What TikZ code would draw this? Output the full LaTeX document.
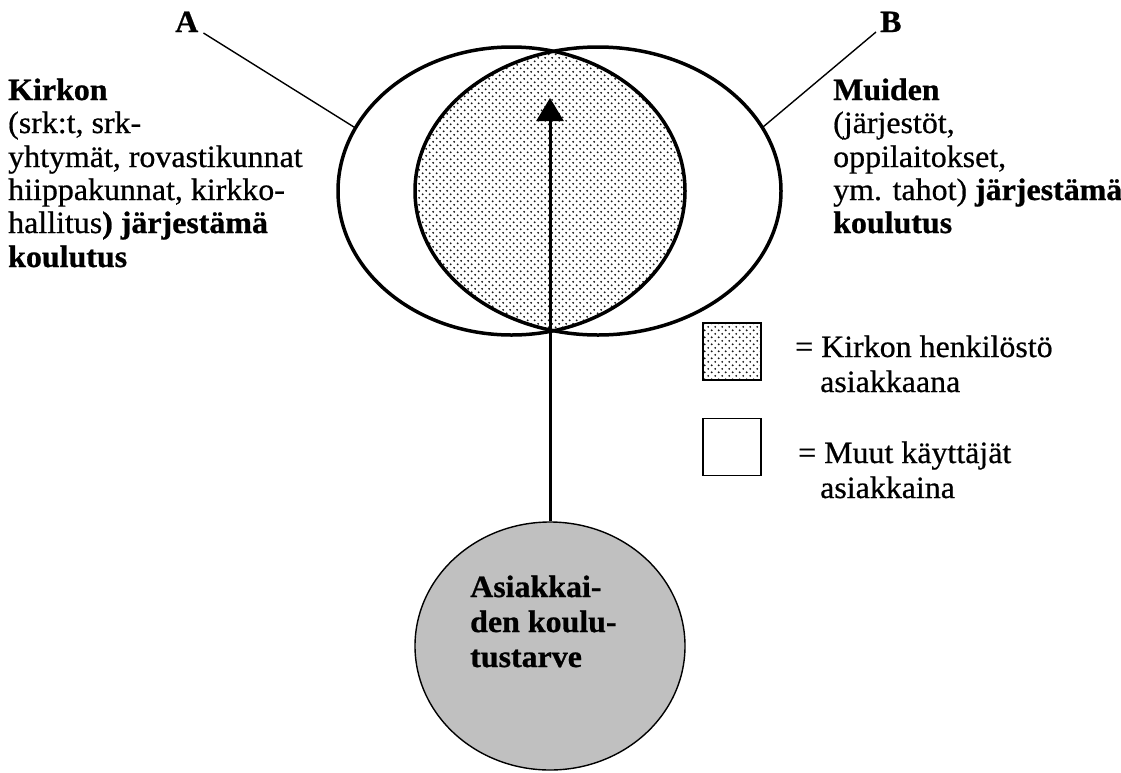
\documentclass[tikz,border=0pt]{standalone}
\usepackage{fontspec}
\setmainfont{Liberation Serif}[FakeStretch=1.03, FakeBold=0.6, BoldFeatures={FakeBold=0.8}]
\usetikzlibrary{patterns,arrows.meta,shapes.geometric}
\pgfdeclarepatternformonly{venndots}{\pgfqpoint{0pt}{0pt}}{\pgfqpoint{7.4pt}{7.4pt}}{\pgfqpoint{7.4pt}{7.4pt}}{%
  \pgfpathcircle{\pgfqpoint{1.85pt}{1.85pt}}{1.1pt}%
  \pgfpathcircle{\pgfqpoint{5.55pt}{5.55pt}}{1.1pt}%
  \pgfusepath{fill}}
\definecolor{needgray}{RGB}{192,192,192}
\tikzset{
  outline/.style={line width=3.5pt},
  leader/.style={line width=1.4pt},
  lbl/.style={anchor=base west, inner sep=0pt, font=\fontsize{31}{33}\selectfont},
  lblb/.style={lbl, font=\fontsize{31}{33}\selectfont\bfseries},
  dotfill/.style={pattern=venndots, pattern color=black!90},
  legbox/.style={draw, line width=1.6pt, minimum width=58pt, minimum height=57pt, inner sep=0pt},
  neednode/.style={draw, line width=1.4pt, ellipse, fill=needgray, minimum width=270pt, minimum height=248pt, inner sep=0pt},
}
\begin{document}
\begin{tikzpicture}[x=1pt,y=-1pt]
\useasboundingbox (0,0) rectangle (1121,772);
\fill[white] (0,0) rectangle (1121,772);

% Venn: intersection of A and B dotted
\begin{scope}
  \clip (511.5,191) ellipse [x radius=173.5pt, y radius=144pt];
  \fill[dotfill] (598,191) ellipse [x radius=183pt, y radius=144pt];
\end{scope}
\draw[outline] (511.5,191) ellipse [x radius=173.5pt, y radius=144pt];
\draw[outline] (598,191) ellipse [x radius=183pt, y radius=144pt];

\coordinate (aA) at (355.5,128);
\coordinate (bB) at (763,127);

% labels A and B with leaders
\node[lblb] (labA) at (175,32) {A};
\node[lblb] (labB) at (880,32) {B};
\draw[leader] ([xshift=5pt,yshift=-1pt]labA.base east) -- (aA);
\draw[leader] ([xshift=-4pt]labB.base west) -- (bB);

% left text
\node[lblb] (l1) at (8,100) {Kirkon};
\node[lbl]  (l2) at (8,133) {(srk:t, srk-};
\node[lbl]  (l3) at (8,167) {yhtymät, rovastikunnat};
\node[lbl]  (l4) at (8,200) {hiippakunnat, kirkko-};
\node[lbl]  (l5) at (8,233) {hallitus\textbf{) järjestämä}};
\node[lblb] (l6) at (8,267) {koulutus};

% right text
\node[lblb] (r1) at (833,100) {Muiden};
\node[lbl]  (r2) at (833,133) {(järjestöt,};
\node[lbl]  (r3) at (833,167) {oppilaitokset,};
\node[lbl]  (r4) at (833,200) {ym. tahot) \textbf{järjestämä}};
\node[lblb] (r5) at (833,233) {koulutus};

% legend
\node[legbox, dotfill] (leg1) at (732,351.5) {};
\node[legbox, fill=white] (leg2) at (732,447) {};
\node[lbl] (t1) at (795,357) {= Kirkon henkilöstö};
\node[lbl] (t2) at (820,392) {asiakkaana};
\node[lbl] (t3) at (798,463) {= Muut käyttäjät};
\node[lbl] (t4) at (820,498) {asiakkaina};

% need circle
\node[neednode] (need) at (550,646) {};
\node[lblb] (n1) at (470,597) {Asiakkai-};
\node[lblb] (n2) at (470,632) {den koulu-};
\node[lblb] (n3) at (470,667) {tustarve};

\coordinate (tip) at (550,98);
\draw[line width=3pt, -{Triangle[width=27pt,length=23pt]}] (need.north) -- (tip);
\end{tikzpicture}
\end{document}
